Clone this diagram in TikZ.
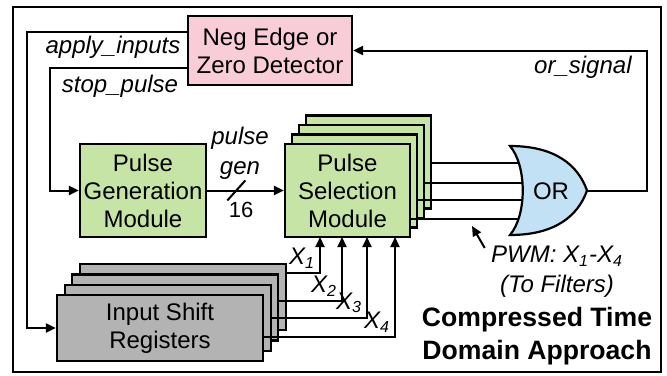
\documentclass[tikz,border=0pt]{standalone}
\usepackage{fontspec}
\setmainfont{Liberation Sans}
\usetikzlibrary{arrows.meta,positioning,calc}
\definecolor{DetPink}{HTML}{F8CDD7}
\definecolor{ModGreen}{HTML}{C6E4A6}
\definecolor{GateBlue}{HTML}{C2E1F4}
\definecolor{RegGray}{HTML}{B3B3B3}

\begin{document}
\begin{tikzpicture}[x=0.5pt, y=-0.5pt,
  blk/.style={draw, line width=1.1pt, align=center, inner sep=0pt, font=\fontsize{12}{14}\selectfont},
  modblk/.style={blk, fill=ModGreen, minimum width=62.5pt, minimum height=46.5pt},
  regblk/.style={blk, fill=RegGray, minimum width=103pt, minimum height=33pt},
  sig/.style={line width=1pt, -{Triangle[length=5pt,width=4.5pt]}},
  wire/.style={line width=1pt},
  lab/.style={font=\fontsize{12}{15}\selectfont\itshape, inner sep=0pt}]

\useasboundingbox (0,0) rectangle (667,375);
\draw[line width=1.1pt] (13,7) rectangle (661,372);

% blocks
\node[blk, fill=DetPink, minimum width=82pt, minimum height=34.5pt] (det) at (270,50.5) {Neg Edge or\\Zero Detector};
\node[modblk, minimum width=63pt] (pgm) at (143,190.5) {Pulse\\Generation\\Module};
\foreach \i in {4,3,2}
  \node[modblk] (psm\i) at ({347.5+7*(\i-1)},{190.5-9.5*(\i-1)}) {};
\node[modblk] (psm1) at (347.5,190.5) {Pulse\\Selection\\Module};
\foreach \i in {4,3,2}
  \node[regblk] (isr\i) at ({160+7.6*(\i-1)},{328-10.3*(\i-1)}) {};
\node[regblk] (isr1) at (160,328) {Input Shift\\Registers};

% detector outputs
\coordinate (applyx) at (27,0);
\coordinate (stopx) at (50,0);
\draw[sig] (det.west |- 0,32) -| (applyx |- isr1.west) -- (isr1.west);
\draw[sig] (det.west |- 0,68) -| (stopx |- pgm.west) -- (pgm.west);
\node[lab] (applylab) at (113,47) {apply\_inputs};
\node[lab] (stoplab) at (120,86) {stop\_pulse};

% pulse bus
\draw[sig] (pgm.east) -- coordinate[pos=0.38] (busmark) (psm1.west);
\draw[wire] ($(busmark)+(-9,10)$) -- ($(busmark)+(9,-10)$);
\node[font=\fontsize{11}{13}\selectfont, inner sep=0pt] (buswidth) at (241,210) {16};
\node[lab, align=center] (buslab) at (240,153) {pulse\\gen};

% PWM lines into the OR
\foreach \i/\yy in {4/163,3/183,2/200,1/219}{
  \coordinate (in\i) at (524,\yy);
  \draw[wire] (psm\i.east |- in\i) -- (in\i);
}
\coordinate (ortop) at (510,146);
\coordinate (orbot) at (510,235);
\coordinate (orout) at (587,190.5);
\draw[line width=1.1pt, fill=GateBlue] (ortop) .. controls (555,146) and (578,165) .. (orout)
  .. controls (578,216) and (555,235) .. (orbot) .. controls (527,215) and (527,166) .. cycle;
\node[font=\fontsize{12}{14}\selectfont, inner sep=0pt] (orgate) at (551,191) {OR};

% feedback
\coordinate (sigx) at (647,0);
\draw[sig] (orout) -| (sigx |- det.east) -- (det.east);
\node[lab, anchor=east] (siglab) at (632,67) {or\_signal};

% register outputs
\foreach \i/\b/\yy/\xx in {1/4/273/320, 2/3/301/342, 3/2/318/367, 4/1/337/395}{
  \coordinate (xin\i) at (\xx,237);
  \draw[sig] (isr\b.east |- 0,\yy) -| node[lab, pos=0.5, anchor=south east, inner sep=2pt] (xlab\i) {X\textsubscript{\i}} (xin\i);
}

% notes
\node[lab, align=center] (pwm) at (557,272) {PWM: X\textsubscript{1}-X\textsubscript{4}\\(To Filters)};
\coordinate (pwmtip) at (472,226);
\draw[sig] ([shift={(-6,-24)}]pwm.west) -- (pwmtip);
\node[font=\fontsize{13.3}{16.5}\selectfont\bfseries, align=center, inner sep=0pt] (title) at (537,336) {Compressed Time\\Domain Approach};
\end{tikzpicture}
\end{document}
